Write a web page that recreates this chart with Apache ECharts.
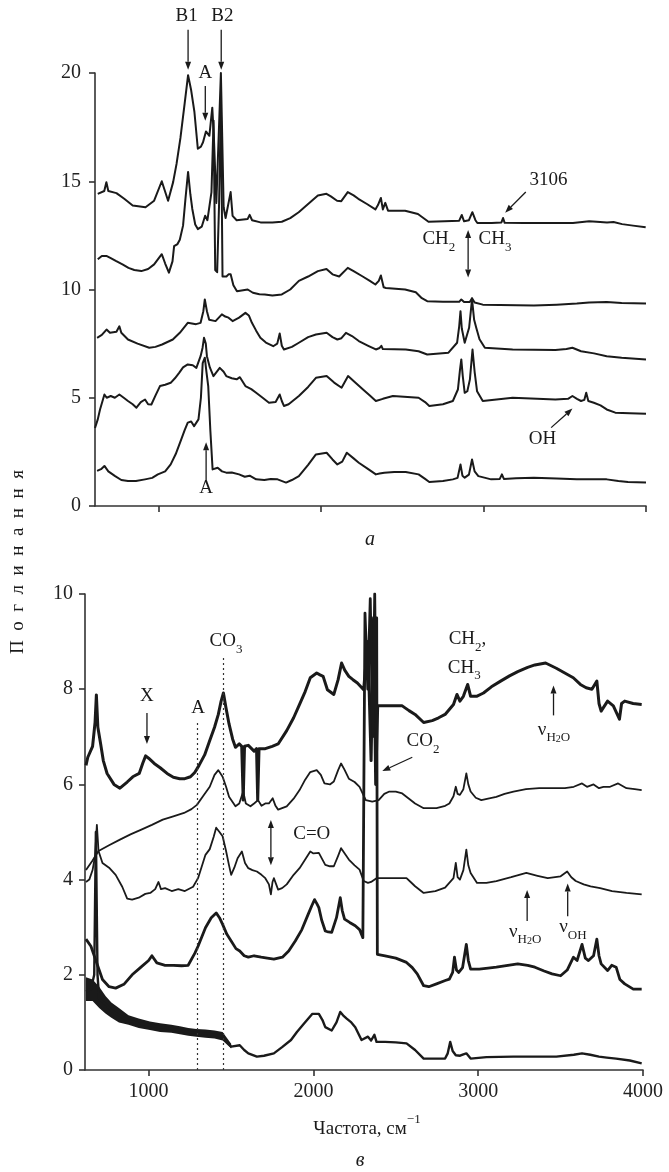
<!DOCTYPE html>
<html><head><meta charset="utf-8">
<script src="https://cdn.jsdelivr.net/npm/echarts@6/dist/echarts.min.js"></script>
<style>html,body{margin:0;padding:0;background:#fff}#c{width:669px;height:1172px}</style>
</head><body><div id="c"></div>
<script>
// ---------- Panel a (top) ----------
const a1X = [625,665,678,690,740,788,840,919,972,1019,1058,1089,1110,1134,1160,1181,1200,1220,1241,1260,1273,1291,1312,1330,1340,1355,1383,1400,1412,1443,1455,1480,1548,1560,1575,1627,1700,1758,1810,1862,1920,1980,2033,2060,2098,2124,2164,2200,2229,2282,2334,2350,2368,2380,2395,2412,2517,2596,2661,2760,2850,2866,2880,2910,2931,2950,2962,3050,3110,3120,3130,3250,3434,3550,3650,3696,3760,3800,3853,3920,3998];
const a1Y = [14.42,14.55,14.95,14.55,14.45,14.19,13.88,13.8,14.1,15.0,14.1,14.96,15.8,17.0,18.6,19.9,19.2,18.2,16.5,16.6,16.8,17.3,17.1,18.4,17.0,14.0,20.0,13.8,13.3,14.5,13.4,13.2,13.26,13.45,13.2,13.1,13.1,13.13,13.3,13.57,13.95,14.34,14.42,14.3,14.1,14.08,14.5,14.35,14.19,13.95,13.7,13.9,14.23,13.7,14.0,13.64,13.64,13.49,13.13,13.15,13.18,13.44,13.15,13.2,13.57,13.2,13.07,13.07,13.1,13.3,13.08,13.07,13.07,13.07,13.15,13.13,13.1,13.12,13.02,12.95,12.87];
const a2X = [625,650,678,705,736,780,814,850,893,935,972,1019,1040,1063,1085,1095,1116,1130,1150,1165,1181,1195,1207,1225,1241,1265,1286,1300,1312,1325,1338,1348,1360,1372,1383,1393,1417,1430,1443,1460,1482,1548,1580,1620,1653,1700,1758,1810,1863,1920,1980,2033,2070,2111,2164,2200,2256,2300,2334,2355,2368,2385,2399,2517,2583,2620,2653,2750,2850,2863,2880,2915,2929,2945,2995,3100,3310,3450,3574,3650,3758,3850,4000];
const a2Y = [11.4,11.55,11.55,11.45,11.32,11.15,11.0,10.9,10.85,10.95,11.16,11.63,11.2,10.78,11.3,12.0,12.1,12.3,12.95,14.2,15.43,14.4,13.72,13.0,12.79,12.9,13.41,13.2,13.18,14.5,17.8,10.9,10.8,14.0,18.6,10.6,10.6,10.7,10.7,10.2,9.92,10.0,9.85,9.78,9.77,9.72,9.77,10.0,10.4,10.6,10.85,10.95,10.7,10.6,11.0,10.85,10.6,10.4,10.23,10.4,10.65,10.1,10.07,10.0,9.87,9.6,9.46,9.43,9.43,9.54,9.42,9.42,9.6,9.4,9.3,9.28,9.26,9.3,9.35,9.4,9.42,9.38,9.35];
const a3X = [621,650,679,700,740,758,770,811,870,942,980,1021,1087,1130,1179,1230,1258,1275,1284,1297,1311,1350,1389,1410,1430,1455,1495,1534,1555,1574,1600,1626,1660,1705,1730,1745,1758,1771,1820,1863,1920,1968,2034,2070,2100,2125,2153,2190,2232,2290,2337,2360,2371,2380,2521,2600,2653,2784,2837,2850,2858,2866,2884,2911,2929,2942,2955,2975,3008,3179,3442,3510,3547,3600,3680,3758,3850,4000];
const a3Y = [7.77,7.9,8.15,8.0,8.05,8.3,8.0,7.69,7.5,7.31,7.35,7.46,7.69,8.0,8.46,8.4,8.46,9.0,9.54,9.0,8.6,8.54,8.85,8.75,8.7,8.54,8.7,8.92,8.8,8.46,8.1,7.77,7.55,7.38,7.5,7.97,7.4,7.23,7.35,7.54,7.8,7.92,8.0,7.8,7.69,7.75,8.0,7.85,7.62,7.4,7.23,7.3,7.4,7.25,7.23,7.15,7.0,7.08,7.54,8.3,9.0,8.2,7.54,8.23,9.54,8.6,8.23,7.7,7.31,7.23,7.2,7.25,7.31,7.15,7.05,6.92,6.85,6.77];
const a4X = [608,625,639,666,680,705,730,758,785,811,840,863,890,916,935,955,980,1008,1040,1074,1100,1126,1150,1179,1210,1232,1258,1270,1279,1290,1297,1315,1337,1376,1400,1416,1450,1480,1500,1534,1570,1600,1640,1679,1720,1745,1758,1771,1800,1863,1920,1968,2034,2080,2126,2166,2210,2258,2300,2337,2380,2442,2600,2640,2666,2750,2811,2842,2855,2863,2872,2884,2900,2916,2932,2945,2960,2995,3179,3442,3520,3547,3575,3600,3620,3632,3645,3679,3720,3758,3811,3900,4000];
const a4Y = [3.6,4.0,4.46,5.15,5.0,5.08,5.0,5.15,5.0,4.85,4.7,4.54,4.8,4.92,4.7,4.69,5.1,5.54,5.6,5.69,5.9,6.15,6.4,6.54,6.5,6.38,6.92,7.3,7.77,7.5,6.92,6.4,6.0,6.38,6.2,6.0,5.9,5.85,5.95,5.54,5.4,5.23,5.0,4.77,4.8,5.15,4.85,4.62,4.7,5.08,5.5,5.92,6.0,5.7,5.46,6.0,5.7,5.38,5.1,4.85,4.95,5.08,5.0,4.8,4.62,4.7,4.85,5.38,6.3,6.77,6.0,5.23,5.3,5.85,7.23,6.2,5.3,4.85,5.0,4.92,4.95,5.08,4.95,4.85,4.9,5.23,4.85,4.77,4.65,4.46,4.31,4.28,4.26];
const a5X = [621,645,666,690,732,770,811,860,916,960,995,1040,1074,1105,1139,1160,1179,1200,1218,1245,1260,1271,1284,1294,1305,1318,1332,1363,1390,1416,1450,1495,1530,1560,1600,1650,1690,1732,1760,1784,1820,1863,1920,1968,2034,2070,2100,2130,2158,2200,2232,2290,2337,2360,2389,2450,2521,2600,2640,2666,2750,2811,2840,2858,2870,2884,2910,2929,2945,2968,3047,3100,3113,3125,3200,3310,3450,3574,3680,3758,3830,3889,4000];
const a5Y = [1.62,1.7,1.85,1.6,1.38,1.2,1.15,1.15,1.23,1.3,1.46,1.6,1.92,2.4,3.08,3.5,3.85,3.9,3.69,4.0,5.0,6.6,6.85,6.2,5.54,3.5,1.69,1.77,1.6,1.54,1.55,1.46,1.35,1.4,1.23,1.2,1.25,1.23,1.15,1.08,1.2,1.38,1.9,2.38,2.46,2.15,1.92,2.05,2.46,2.2,2.0,1.7,1.46,1.5,1.54,1.57,1.57,1.46,1.25,1.11,1.15,1.23,1.3,1.92,1.4,1.31,1.45,2.15,1.6,1.38,1.23,1.25,1.46,1.25,1.28,1.31,1.27,1.23,1.23,1.23,1.15,1.11,1.08];

// ---------- Panel в (bottom) ----------
const b1X = [620,631,660,675,683,692,709,725,748,790,826,870,904,943,965,982,1000,1034,1070,1112,1150,1189,1220,1254,1280,1306,1340,1371,1400,1423,1440,1454,1470,1488,1510,1527,1550,1565,1574,1582,1605,1640,1655,1662,1670,1708,1750,1786,1838,1880,1916,1950,1981,2020,2040,2059,2085,2124,2150,2171,2190,2215,2240,2267,2305,2330,2350,2365,2378,2390,2409,2470,2539,2580,2617,2669,2721,2760,2799,2850,2871,2889,2910,2936,2954,2990,3032,3080,3136,3190,3240,3300,3344,3409,3474,3520,3577,3620,3655,3690,3720,3733,3746,3785,3820,3857,3870,3889,3940,3992];
const b1Y = [6.4,6.57,6.8,7.3,7.88,7.2,6.85,6.5,6.23,6.0,5.92,6.05,6.16,6.23,6.45,6.6,6.55,6.44,6.35,6.23,6.15,6.12,6.12,6.16,6.25,6.4,6.62,6.92,7.2,7.47,7.75,7.92,7.6,7.27,6.95,6.78,6.85,6.8,5.67,6.8,6.82,6.7,6.75,5.67,6.75,6.75,6.8,6.85,7.13,7.4,7.68,7.95,8.24,8.34,8.3,8.27,7.99,7.89,8.2,8.55,8.4,8.27,8.2,8.13,7.99,9.0,6.5,9.5,6.0,7.65,7.65,7.65,7.65,7.55,7.47,7.3,7.34,7.4,7.47,7.68,7.89,7.75,7.85,8.1,7.85,7.85,7.92,8.05,8.17,8.28,8.37,8.46,8.51,8.55,8.44,8.35,8.24,8.1,8.03,8.0,8.17,7.7,7.54,7.75,7.65,7.37,7.7,7.75,7.7,7.68];
const b2X = [620,631,660,696,760,826,890,956,1020,1086,1150,1215,1260,1293,1330,1371,1400,1423,1449,1470,1488,1527,1550,1574,1590,1618,1640,1664,1685,1708,1730,1753,1770,1786,1838,1880,1916,1950,1981,2020,2045,2067,2100,2124,2150,2168,2190,2215,2250,2280,2300,2318,2357,2396,2430,2461,2500,2539,2580,2617,2669,2747,2800,2825,2850,2864,2875,2889,2910,2928,2940,2954,2985,3019,3060,3110,3160,3214,3290,3370,3450,3526,3580,3630,3660,3700,3733,3760,3800,3849,3900,3950,3992];
const b2Y = [4.2,4.24,4.4,4.6,4.72,4.84,4.95,5.05,5.15,5.26,5.33,5.4,5.48,5.57,5.75,5.95,6.2,6.3,6.16,5.95,5.74,5.54,5.6,5.85,5.6,5.54,5.6,5.67,5.55,5.6,5.6,5.71,5.55,5.47,5.54,5.7,5.88,6.1,6.26,6.3,6.2,6.02,6.0,6.06,6.3,6.44,6.3,6.12,6.05,5.95,5.8,5.67,5.64,5.67,5.8,5.85,5.85,5.81,5.7,5.6,5.5,5.5,5.55,5.6,5.75,5.95,5.8,5.78,5.9,6.23,6.0,5.85,5.72,5.67,5.7,5.74,5.8,5.85,5.9,5.92,5.92,5.92,5.95,6.02,5.95,6.0,5.92,5.95,5.95,6.02,5.92,5.9,5.88];
const b3X = [620,640,660,675,686,696,720,760,800,840,870,900,940,980,1010,1040,1060,1075,1100,1140,1180,1220,1270,1300,1345,1371,1395,1410,1430,1449,1470,1488,1501,1520,1540,1566,1585,1605,1630,1657,1685,1708,1730,1742,1752,1760,1786,1810,1838,1880,1916,1950,1981,2000,2033,2050,2072,2100,2124,2150,2168,2190,2215,2250,2280,2305,2331,2350,2383,2435,2500,2565,2590,2617,2669,2740,2799,2850,2864,2875,2889,2910,2928,2940,2954,2993,3050,3110,3200,3292,3360,3422,3500,3540,3565,3592,3640,3682,3740,3812,3900,3992];
const b3Y = [3.95,4.0,4.2,4.5,5.15,4.6,4.35,4.25,4.1,3.85,3.6,3.58,3.62,3.7,3.72,3.8,3.95,3.8,3.82,3.76,3.8,3.76,3.85,4.03,4.52,4.64,4.9,5.09,5.0,4.91,4.6,4.3,4.1,4.25,4.45,4.59,4.35,4.24,4.2,4.17,4.1,4.03,3.9,3.69,3.95,4.03,3.79,3.82,3.9,4.1,4.24,4.42,4.59,4.55,4.56,4.45,4.31,4.28,4.28,4.5,4.66,4.55,4.42,4.3,4.21,3.97,3.93,3.95,4.03,4.03,4.03,4.03,3.95,3.86,3.72,3.76,3.83,4.03,4.35,4.05,4.0,4.2,4.63,4.3,4.14,3.93,3.93,3.97,4.05,4.14,4.08,4.03,4.07,4.17,4.05,3.97,3.9,3.86,3.82,3.76,3.72,3.69];
const b4X = [620,650,680,720,760,800,850,900,950,1000,1020,1050,1100,1150,1200,1240,1280,1300,1345,1380,1410,1430,1449,1475,1501,1530,1553,1580,1605,1640,1683,1720,1760,1812,1850,1890,1930,1968,1990,2007,2020,2033,2050,2072,2090,2111,2140,2163,2175,2189,2220,2254,2280,2292,2300,2313,2330,2345,2360,2372,2380,2384,2388,2435,2500,2565,2600,2630,2669,2700,2747,2800,2825,2845,2856,2868,2882,2905,2928,2940,2954,3006,3060,3110,3180,3240,3300,3344,3400,3448,3500,3540,3578,3600,3630,3650,3669,3700,3720,3733,3746,3785,3810,3837,3860,3889,3941,3992];
const b4Y = [2.75,2.6,2.3,1.9,1.75,1.72,1.8,2.0,2.15,2.3,2.4,2.25,2.2,2.2,2.19,2.2,2.45,2.6,2.99,3.2,3.3,3.2,3.06,2.85,2.71,2.55,2.5,2.4,2.37,2.4,2.37,2.35,2.33,2.37,2.5,2.71,2.95,3.27,3.45,3.58,3.5,3.41,3.15,2.92,2.9,2.89,3.2,3.62,3.35,3.17,3.1,3.03,2.95,2.85,2.78,9.6,8.0,9.9,7.0,10.0,7.5,9.5,2.43,2.4,2.35,2.26,2.15,2.02,1.77,1.75,1.81,1.88,1.91,2.05,2.37,2.1,2.05,2.15,2.64,2.3,2.12,2.12,2.14,2.16,2.2,2.23,2.2,2.16,2.08,2.02,1.98,2.1,2.37,2.3,2.64,2.35,2.3,2.4,2.75,2.4,2.23,2.09,2.2,2.16,1.9,1.81,1.7,1.7];
const b5X = [620,650,670,680,690,700,740,774,820,878,940,1008,1070,1138,1190,1241,1290,1345,1400,1449,1475,1501,1553,1580,1605,1657,1700,1760,1810,1864,1900,1942,1994,2033,2055,2072,2111,2140,2163,2180,2202,2230,2254,2292,2331,2350,2370,2383,2435,2500,2565,2617,2669,2740,2799,2815,2830,2845,2864,2890,2910,2928,2954,3050,3214,3474,3580,3630,3680,3733,3780,3837,3920,3992];
const b5Y = [1.65,1.7,2.0,5.0,2.0,1.5,1.38,1.25,1.15,1.04,0.98,0.94,0.9,0.87,0.83,0.8,0.78,0.77,0.74,0.7,0.6,0.49,0.52,0.42,0.35,0.28,0.3,0.35,0.48,0.63,0.8,0.97,1.18,1.18,1.05,0.9,0.83,1.0,1.22,1.15,1.08,1.0,0.9,0.63,0.7,0.62,0.74,0.59,0.59,0.58,0.56,0.42,0.24,0.24,0.24,0.35,0.59,0.4,0.31,0.3,0.33,0.35,0.24,0.27,0.28,0.28,0.32,0.35,0.32,0.28,0.26,0.24,0.2,0.14];
// noise envelope of the lowest curve (left part)
const b5BandX = [620,660,700,740,774,820,878,940,1008,1070,1138,1190,1241,1290,1345,1400,1449,1480,1501];
const b5BandLow = [1.45,1.45,1.3,1.18,1.1,1.0,0.95,0.88,0.84,0.8,0.78,0.75,0.72,0.7,0.68,0.66,0.62,0.52,0.45];
const b5BandHigh = [1.95,1.9,1.75,1.55,1.42,1.3,1.15,1.08,1.02,0.98,0.95,0.92,0.88,0.86,0.85,0.83,0.8,0.65,0.55];

const xTicks = [1000, 2000, 3000, 4000];

const FONT = 'Liberation Serif';
const INK = '#1a1a1a';
const pairs = (xs, ys) => xs.map((x, i) => [x, ys[i]]);

function curve(g, xs, ys, w) {
  return { type: 'line', xAxisIndex: g, yAxisIndex: g, data: pairs(xs, ys), showSymbol: false,
    symbol: 'none', lineStyle: { color: INK, width: w, join: 'round' }, silent: true, animation: false };
}

const axisLineStyle = { color: '#333', width: 1.6 };
function xAx(g, min, labels) {
  return { gridIndex: g, type: 'value', min: min, max: 4000,
    axisLine: { show: true, onZero: false, lineStyle: axisLineStyle },
    axisTick: { show: true, customValues: xTicks, length: 6, lineStyle: axisLineStyle },
    axisLabel: { show: labels, customValues: xTicks, formatter: v => String(v), fontFamily: FONT, fontSize: 20, color: '#222', margin: 12 },
    splitLine: { show: false } };
}
function yAx(g, max, step, margin) {
  return { gridIndex: g, type: 'value', min: 0, max: max, interval: step,
    axisLine: { show: true, onZero: false, lineStyle: axisLineStyle },
    axisTick: { show: true, length: 6, lineStyle: axisLineStyle },
    axisLabel: { fontFamily: FONT, fontSize: 20, color: '#222', margin: margin },
    splitLine: { show: false } };
}

const chart = echarts.init(document.getElementById('c'));
const b5Series = curve(1, b5X, b5Y, 2.4);
b5Series.markLine = { silent: true, symbol: 'none', label: { show: false }, lineStyle: { type: [2, 3], color: '#333', width: 1.2 },
  data: [ [{ coord: [1298, 0] }, { coord: [1298, 7.3] }], [{ coord: [1454, 0] }, { coord: [1454, 8.7] }] ] };
const series = [
  curve(0, a1X, a1Y, 2), curve(0, a2X, a2Y, 2), curve(0, a3X, a3Y, 2), curve(0, a4X, a4Y, 2), curve(0, a5X, a5Y, 2),
  curve(1, b1X, b1Y, 3), curve(1, b2X, b2Y, 1.8), curve(1, b3X, b3Y, 1.8), curve(1, b4X, b4Y, 2.8), b5Series,
  { type: 'custom', xAxisIndex: 1, yAxisIndex: 1, silent: true, animation: false, data: [[b5BandX[0], b5BandLow[0]]],
    renderItem: function (params, api) {
      const pts = [];
      for (let i = 0; i < b5BandX.length; i++) pts.push(api.coord([b5BandX[i], b5BandHigh[i]]));
      for (let i = b5BandX.length - 1; i >= 0; i--) pts.push(api.coord([b5BandX[i], b5BandLow[i]]));
      return { type: 'polygon', shape: { points: pts }, style: { fill: INK } };
    } }
];

chart.setOption({
  backgroundColor: '#ffffff',
  animation: false,
  grid: [ { left: 95, top: 73, width: 551, height: 433 }, { left: 85, top: 594, width: 558, height: 476 } ],
  xAxis: [ xAx(0, 608, false), xAx(1, 614, true) ],
  yAxis: [ yAx(0, 20, 5, 14), yAx(1, 10, 2, 12) ],
  series: series
});

// ---------- annotations (data coordinates) ----------
const topTexts = [
  { t: [['n', 'B1']], x: 1172, y: 22.5 },
  { t: [['n', 'B2']], x: 1392, y: 22.5 },
  { t: [['n', 'A']], x: 1287, y: 19.9 },
  { t: [['n', '3106']], x: 3400, y: 14.95 },
  { t: [['n', 'CH'], ['s', '2']], x: 2725, y: 12.2 },
  { t: [['n', 'CH'], ['s', '3']], x: 3070, y: 12.2 },
  { t: [['n', 'OH']], x: 3363, y: 3.0 },
  { t: [['n', 'A']], x: 1292, y: 0.7 }
];
const topArrows = [
  { x1: 1181, y1: 22.0, x2: 1181, y2: 20.15 },
  { x1: 1385, y1: 22.0, x2: 1385, y2: 20.15 },
  { x1: 1287, y1: 19.4, x2: 1287, y2: 17.8 },
  { x1: 3260, y1: 14.5, x2: 3133, y2: 13.55 },
  { x1: 2905, y1: 11.5, x2: 2905, y2: 12.75 },
  { x1: 2905, y1: 11.5, x2: 2905, y2: 10.55 },
  { x1: 3416, y1: 3.62, x2: 3547, y2: 4.5 },
  { x1: 1292, y1: 1.2, x2: 1292, y2: 2.95 }
];
const botTexts = [
  { t: [['n', 'X']], x: 990, y: 7.8 },
  { t: [['n', 'A']], x: 1300, y: 7.55 },
  { t: [['n', 'CO'], ['s', '3']], x: 1470, y: 8.95 },
  { t: [['n', 'C=O']], x: 1990, y: 4.91 },
  { t: [['n', 'CO'], ['s', '2']], x: 2665, y: 6.85 },
  { t: [['n', 'CH'], ['s', '2'], ['n', ',']], x: 2935, y: 9.0 },
  { t: [['n', 'CH'], ['s', '3']], x: 2915, y: 8.4 },
  { t: [['n', 'ν'], ['s', 'H'], ['ss', '2'], ['s', 'O']], x: 3460, y: 7.1 },
  { t: [['n', 'ν'], ['s', 'H'], ['ss', '2'], ['s', 'O']], x: 3285, y: 2.85 },
  { t: [['n', 'ν'], ['s', 'OH']], x: 3575, y: 2.95 }
];
const botArrows = [
  { x1: 990, y1: 7.5, x2: 990, y2: 6.85 },
  { x1: 1742, y1: 4.75, x2: 1742, y2: 5.25 },
  { x1: 1742, y1: 4.75, x2: 1742, y2: 4.3 },
  { x1: 2600, y1: 6.57, x2: 2418, y2: 6.28 },
  { x1: 3457, y1: 7.45, x2: 3457, y2: 8.08 },
  { x1: 3297, y1: 3.13, x2: 3297, y2: 3.78 },
  { x1: 3543, y1: 3.23, x2: 3543, y2: 3.92 }
];

const px = (g, x, y) => chart.convertToPixel({ xAxisIndex: g, yAxisIndex: g }, [x, y]);
const rich = {
  n: { fontFamily: FONT, fontSize: 19, fill: INK, verticalAlign: 'bottom', padding: [0, 0, 5, 0] },
  s: { fontFamily: FONT, fontSize: 13, fill: INK, verticalAlign: 'bottom', padding: [0, 0, 0, 0] },
  ss: { fontFamily: FONT, fontSize: 10, fill: INK, verticalAlign: 'bottom', padding: [0, 0, 0, 0] },
  sup: { fontFamily: FONT, fontSize: 13, fill: INK, verticalAlign: 'top' },
  big: { fontFamily: FONT, fontSize: 19, fill: INK, verticalAlign: 'top', padding: [7, 0, 0, 0] }
};
const gfx = [];
function addText(g, a) {
  const p = px(g, a.x, a.y);
  gfx.push({ type: 'text', x: p[0], y: p[1], silent: true,
    style: { text: a.t.map(s => '{' + s[0] + '|' + s[1] + '}').join(''), rich: rich, align: 'center', verticalAlign: 'middle' } });
}
function addArrow(g, a) {
  const p1 = px(g, a.x1, a.y1), p2 = px(g, a.x2, a.y2);
  const dx = p2[0] - p1[0], dy = p2[1] - p1[1], L = Math.hypot(dx, dy) || 1;
  const ux = dx / L, uy = dy / L, hl = 8, hw = 3;
  const bx = p2[0] - ux * hl, by = p2[1] - uy * hl;
  gfx.push({ type: 'line', silent: true, shape: { x1: p1[0], y1: p1[1], x2: bx, y2: by }, style: { stroke: INK, lineWidth: 1.3 } });
  gfx.push({ type: 'polygon', silent: true, shape: { points: [[p2[0], p2[1]], [bx - uy * hw, by + ux * hw], [bx + uy * hw, by - ux * hw]] },
    style: { fill: INK } });
}
topTexts.forEach(a => addText(0, a));
topArrows.forEach(a => addArrow(0, a));
botTexts.forEach(a => addText(1, a));
botArrows.forEach(a => addArrow(1, a));

// captions and axis titles (page positions)
gfx.push({ type: 'text', x: 370, y: 540, silent: true,
  style: { text: 'a', font: 'italic 20px "Liberation Serif"', fill: INK, align: 'center', verticalAlign: 'middle' } });
gfx.push({ type: 'text', x: 360, y: 1161, silent: true,
  style: { text: 'в', font: 'italic 20px "Liberation Serif"', fill: INK, align: 'center', verticalAlign: 'middle' } });
gfx.push({ type: 'text', x: 367, y: 1126, silent: true,
  style: { text: '{big|Частота, см}{sup|−1}', rich: rich, align: 'center', verticalAlign: 'middle' } });
gfx.push({ type: 'text', x: 18, y: 562, rotation: Math.PI / 2, silent: true,
  style: { text: 'П\u2002о\u2002г\u2002л\u2002и\u2002н\u2002а\u2002н\u2002н\u2002я', font: '19px "Liberation Serif"', fill: INK,
    align: 'center', verticalAlign: 'middle' } });

chart.setOption({ graphic: gfx });
</script></body></html>
